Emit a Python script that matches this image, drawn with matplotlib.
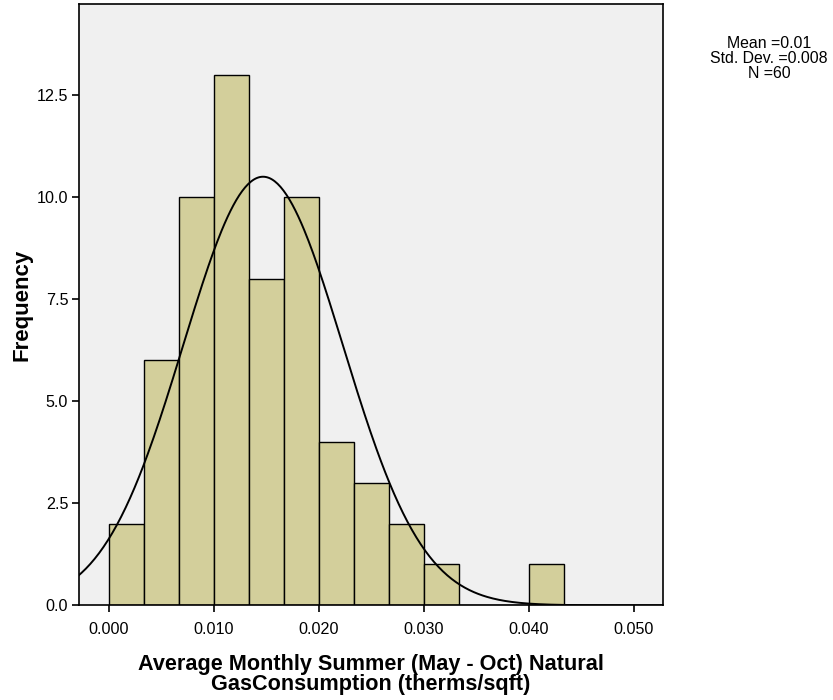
import matplotlib
matplotlib.use("Agg")
import matplotlib.pyplot as plt
import numpy as np

plt.rcParams['font.family'] = ['Liberation Sans', 'DejaVu Sans']

# histogram bins (width 1/300 therms/sqft) and counts
bin_width = 1 / 300
bin_edges = np.arange(14) * bin_width
counts = [2, 6, 10, 13, 8, 10, 4, 3, 2, 1, 0, 0, 1]

# fitted normal curve parameters (label shows rounded values)
fit_mean = 0.0147
fit_sd = 0.0076
n_total = 60

x_ticks = [0.000, 0.010, 0.020, 0.030, 0.040, 0.050]
y_ticks = [0.0, 2.5, 5.0, 7.5, 10.0, 12.5]
stats_text = "Mean =0.01\nStd. Dev. =0.008\nN =60"

fig = plt.figure(figsize=(8.33, 7), dpi=100)
ax = fig.add_axes([0.0952, 0.1353, 0.7004, 0.859])
ax.set_facecolor('#F0F0F0')

ax.bar(bin_edges[:-1], counts, width=bin_width, align='edge',
       color='#D3CF9B', edgecolor='black', linewidth=1.0, zorder=2)

xs = np.linspace(-0.003, 0.053, 400)
ys = n_total * bin_width / (fit_sd * np.sqrt(2 * np.pi)) * np.exp(-0.5 * ((xs - fit_mean) / fit_sd) ** 2)
ax.plot(xs, ys, color='black', linewidth=1.4, zorder=3)

ax.set_xlim(-0.00278, 0.05273)
ax.set_ylim(0, 14.73)
ax.set_xticks(x_ticks)
ax.set_xticklabels([f"{v:.3f}" for v in x_ticks])
ax.set_yticks(y_ticks)
ax.set_yticklabels([f"{v:.1f}" for v in y_ticks])
ax.tick_params(direction='out', length=5, width=1.2, labelsize=11.6)
ax.tick_params(axis='x', pad=7)
ax.tick_params(axis='y', pad=3)
for s in ax.spines.values():
    s.set_linewidth(1.2)

ax.set_xlabel("Average Monthly Summer (May - Oct) Natural\nGasConsumption (therms/sqft)",
              fontsize=15.6, fontweight='bold', labelpad=12, linespacing=0.95)
ax.set_ylabel("Frequency", fontsize=16, fontweight='bold', labelpad=3)

fig.text(769 / 833, 1 - 36 / 700, stats_text, ha='center', va='top',
         fontsize=11.4, linespacing=1.0)

fig.savefig('out.png', dpi=100)
